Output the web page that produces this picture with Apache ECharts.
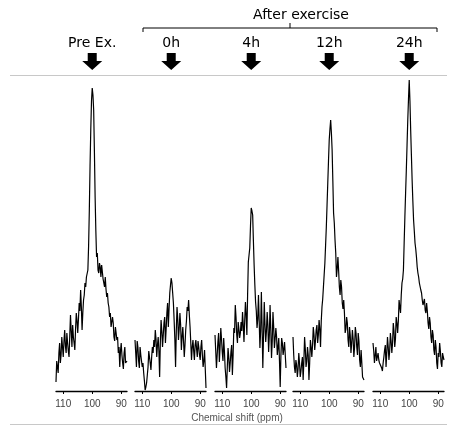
<!DOCTYPE html>
<html lang="en">
<head>
    <meta charset="UTF-8">
    <title>Chemical shift spectra</title>
    <script src="https://cdn.jsdelivr.net/npm/echarts@6/dist/echarts.min.js"></script>
    <style>
        html, body { margin: 0; padding: 0; background: #fff; }
        #chart { width: 453px; height: 428px; }
    </style>
</head>
<body>
<div id="chart"></div>

<script>
    // chemical shift (ppm) of every sample point, shared by all panels
    const shifts = [
        112.5, 112.25, 112, 111.75, 111.5, 111.25, 111, 110.75, 110.5, 110.25,
        110, 109.75, 109.5, 109.25, 109, 108.75, 108.5, 108.25, 108, 107.75,
        107.5, 107.25, 107, 106.75, 106.5, 106.25, 106, 105.75, 105.5, 105.25,
        105, 104.75, 104.5, 104.25, 104, 103.75, 103.5, 103.25, 103, 102.75,
        102.5, 102.25, 102, 101.75, 101.5, 101.25, 101, 100.75, 100.5, 100.25,
        100, 99.75, 99.5, 99.25, 99, 98.75, 98.5, 98.25, 98, 97.75,
        97.5, 97.25, 97, 96.75, 96.5, 96.25, 96, 95.75, 95.5, 95.25,
        95, 94.75, 94.5, 94.25, 94, 93.75, 93.5, 93.25, 93, 92.75,
        92.5, 92.25, 92, 91.75, 91.5, 91.25, 91, 90.75, 90.5, 90.25,
        90, 89.75, 89.5, 89.25, 89, 88.75, 88.5, 88.25, 88
    ];

    const panelNames = ['Pre Ex.', '0h', '4h', '12h', '24h'];
    const tickValues = [110, 100, 90];

    // signal intensity (arbitrary units)
    const preEx = [
        9, 30, 24, 18, 38, 48, 28, 36, 54, 44,
        34, 50, 61, 45, 38, 58, 48, 40, 34, 55,
        76, 60, 44, 66, 54, 48, 41, 62, 78, 70,
        58, 72, 88, 80, 101, 84, 61, 78, 91, 96,
        108, 104, 114, 112, 121, 145, 181, 225, 261, 290,
        303, 296, 281, 240, 194, 160, 134, 138, 121, 118,
        128, 124, 114, 126, 124, 112, 108, 104, 114, 102,
        94, 98, 88, 84, 74, 78, 64, 66, 74, 68,
        54, 50, 64, 58, 51, 54, 38, 44, 24, 40,
        48, 36, 28, 22, 38, 44, 28, 26, 30
    ];
    const h0 = [
        51, 38, 24, 50, 44, 30, 23, 44, 36, 30,
        24, 28, 18, 10, 1, 4, 8, 16, 24, 40,
        34, 28, 21, 34, 44, 38, 51, 44, 61, 52,
        34, 46, 54, 40, 14, 50, 71, 60, 44, 56,
        68, 74, 48, 62, 78, 88, 64, 82, 98, 106,
        113, 108, 98, 88, 71, 52, 24, 60, 84, 72,
        51, 62, 78, 66, 41, 54, 64, 50, 34, 46,
        61, 70, 84, 80, 91, 76, 64, 48, 31, 44,
        51, 40, 31, 46, 51, 42, 34, 50, 44, 36,
        31, 44, 51, 36, 24, 30, 41, 22, 3
    ];
    const h4 = [
        56, 40, 23, 36, 49, 58, 29, 44, 63, 52,
        39, 30, 53, 40, 23, 14, 3, 24, 43, 34,
        19, 28, 39, 46, 16, 36, 63, 58, 86, 74,
        56, 48, 69, 62, 53, 58, 69, 60, 79, 66,
        49, 70, 89, 76, 56, 96, 129, 136, 143, 165,
        183, 180, 176, 150, 126, 106, 89, 80, 63, 72,
        96, 70, 43, 60, 99, 64, 23, 56, 89, 66,
        49, 60, 79, 66, 39, 56, 86, 62, 33, 50,
        79, 64, 43, 52, 63, 54, 36, 44, 53, 30,
        4, 36, 53, 48, 36, 42, 49, 36, 23
    ];
    const h12 = [
        54, 36, 24, 18, 31, 26, 14, 22, 38, 28,
        14, 20, 28, 34, 11, 30, 54, 42, 24, 30,
        44, 36, 11, 28, 51, 44, 34, 46, 64, 56,
        41, 50, 61, 66, 48, 56, 71, 62, 44, 70,
        84, 92, 104, 116, 128, 146, 164, 186, 208, 230,
        251, 262, 271, 258, 241, 210, 178, 168, 151, 138,
        114, 122, 134, 120, 104, 96, 111, 104, 88, 82,
        91, 78, 58, 62, 74, 68, 51, 44, 64, 56,
        38, 48, 61, 52, 34, 44, 64, 58, 44, 36,
        58, 50, 31, 24, 41, 28, 14, 16, 11
    ];
    const h24 = [
        48, 40, 28, 36, 44, 30, 34, 38, 31, 28,
        26, 30, 23, 20, 28, 34, 41, 46, 24, 38,
        54, 44, 31, 40, 58, 50, 38, 48, 68, 60,
        44, 52, 74, 68, 58, 70, 91, 84, 78, 96,
        108, 112, 121, 148, 174, 198, 221, 246, 271, 292,
        311, 290, 261, 236, 211, 190, 171, 160, 148, 142,
        134, 124, 118, 114, 108, 106, 101, 98, 91, 86,
        88, 92, 81, 78, 88, 80, 68, 62, 74, 68,
        54, 48, 61, 56, 41, 36, 51, 44, 28, 22,
        38, 34, 48, 40, 28, 24, 38, 34, 31
    ];
    const spectra = [preEx, h0, h4, h12, h24];

    const panelLeft = [56, 135, 215, 293, 373];
    const panelWidth = 71;

    const chart = echarts.init(document.getElementById('chart'));

    const grids = [], xAxes = [], yAxes = [], series = [], graphics = [];

    spectra.forEach(function (vals, i) {
        grids.push({ left: panelLeft[i], width: panelWidth, top: 76, bottom: 37 });
        xAxes.push({
            type: 'value', gridIndex: i, min: 88, max: 112.5, inverse: true,
            splitLine: { show: false },
            axisLine: { show: true, onZero: false, lineStyle: { color: '#000', width: 1.3 } },
            axisTick: { show: true, length: 3, customValues: tickValues, lineStyle: { color: '#000' } },
            axisLabel: { customValues: tickValues, margin: 8, fontSize: 10, color: '#444', fontFamily: 'Liberation Sans' }
        });
        yAxes.push({ type: 'value', gridIndex: i, min: 0, max: 315, show: false });
        series.push({
            type: 'line', xAxisIndex: i, yAxisIndex: i,
            showSymbol: false, silent: true,
            lineStyle: { color: '#000', width: 1.2 },
            data: shifts.map(function (s, k) { return [s, vals[k]]; })
        });

        // arrow + label above each panel, centred on 100 ppm
        const cx = panelLeft[i] + (112.5 - 100) / 24.5 * panelWidth;
        graphics.push({
            type: 'polygon',
            shape: { points: [[cx - 4.5, 53], [cx + 4.5, 53], [cx + 4.5, 61], [cx + 10, 61], [cx, 70], [cx - 10, 61], [cx - 4.5, 61]] },
            style: { fill: '#000' }
        });
        graphics.push({
            type: 'text', x: cx, y: 43,
            style: { text: panelNames[i], fill: '#000', font: '14px "DejaVu Sans"', align: 'center', verticalAlign: 'middle' }
        });
    });

    // bracket for "After exercise"
    graphics.push(
        { type: 'polyline', shape: { points: [[143, 32], [143, 28], [437, 28], [437, 32]] }, style: { stroke: '#000', lineWidth: 1, fill: null } },
        { type: 'line', shape: { x1: 290, y1: 23, x2: 290, y2: 28 }, style: { stroke: '#000', lineWidth: 1 } },
        { type: 'text', x: 301, y: 15, style: { text: 'After exercise', fill: '#000', font: '14px "DejaVu Sans"', align: 'center', verticalAlign: 'middle' } },
        { type: 'line', shape: { x1: 10, y1: 75.5, x2: 447, y2: 75.5 }, style: { stroke: '#c8c8c8', lineWidth: 1 } },
        { type: 'line', shape: { x1: 10, y1: 424.5, x2: 447, y2: 424.5 }, style: { stroke: '#c8c8c8', lineWidth: 1 } },
        { type: 'text', x: 237, y: 418, style: { text: 'Chemical shift (ppm)', fill: '#555', font: '10px "Liberation Sans"', align: 'center', verticalAlign: 'middle' } }
    );

    chart.setOption({
        animation: false,
        backgroundColor: '#fff',
        grid: grids,
        xAxis: xAxes,
        yAxis: yAxes,
        series: series,
        graphic: graphics
    });
</script>
</body>
</html>
